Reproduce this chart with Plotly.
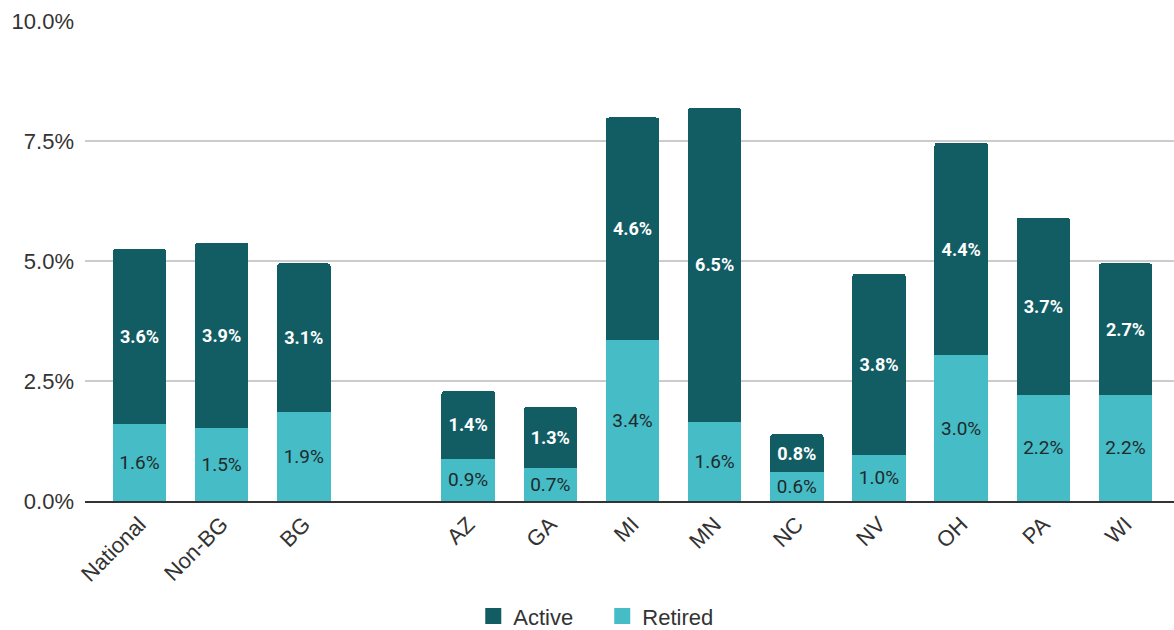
import plotly.graph_objects as go

categories = ["National", "Non-BG", "BG", "", "AZ", "GA", "MI", "MN", "NC", "NV", "OH", "PA", "WI"]
retired = [1.60, 1.52, 1.85, None, 0.88, 0.69, 3.35, 1.65, 0.60, 0.96, 3.04, 2.21, 2.21]
active = [3.65, 3.86, 3.10, None, 1.41, 1.27, 4.64, 6.54, 0.79, 3.77, 4.42, 3.69, 2.74]
y_ticks = [0, 2.5, 5, 7.5, 10]
y_tick_labels = [f"{v:.1f}%" for v in y_ticks]

RETIRED_COLOR = "#45bcc6"
ACTIVE_COLOR = "#125d64"

x_idx = list(range(len(categories)))

fig = go.Figure()
fig.add_trace(go.Bar(
    x=x_idx, y=retired, name="Retired", marker_color=RETIRED_COLOR,
    marker_line_width=0, showlegend=False,
    texttemplate="%{y:.1f}%", textposition="inside", insidetextanchor="middle",
    textfont=dict(family="Roboto", size=19, color="#1f2a2b"),
    textangle=0, width=0.65,
))
fig.add_trace(go.Bar(
    x=x_idx, y=active, name="Active", marker_color=ACTIVE_COLOR,
    marker_line_width=0, showlegend=False,
    texttemplate="<b>%{y:.1f}%</b>", textposition="inside", insidetextanchor="middle",
    textfont=dict(family="Roboto", size=18, color="#ffffff"),
    textangle=0, width=0.65,
))
# legend entries with larger square swatches
for name, col in [("Active", ACTIVE_COLOR), ("Retired", RETIRED_COLOR)]:
    fig.add_trace(go.Scatter(
        x=[None], y=[None], mode="markers", name=name,
        marker=dict(symbol="square", size=20, color=col),
    ))

fig.update_layout(
    width=1174, height=630,
    barmode="stack", barcornerradius=3,
    plot_bgcolor="white", paper_bgcolor="white",
    margin=dict(l=85, r=0, t=21, b=129),
    font=dict(family="Liberation Sans, Arial", size=22, color="#333333"),
    legend=dict(
        orientation="h", xref="container", yref="container",
        x=0.513, xanchor="center", y=0.022, yanchor="middle",
        traceorder="normal",
        font=dict(family="Liberation Sans, Arial", size=22, color="#333333"),
        itemsizing="trace", entrywidth=84,
    ),
    xaxis=dict(
        tickmode="array", tickvals=x_idx, ticktext=categories,
        range=[-0.663, 12.59], tickangle=-45, showgrid=False,
        showline=True, linecolor="#333333", linewidth=1.5,
        tickfont=dict(family="Liberation Sans, Arial", size=22, color="#333333"),
        ticks="",
    ),
    yaxis=dict(
        range=[0, 10], tickmode="array", tickvals=y_ticks, ticktext=y_tick_labels,
        showgrid=True, gridcolor="#cccccc", gridwidth=1.5, zeroline=False,
        tickfont=dict(family="Liberation Sans, Arial", size=22, color="#333333"),
        ticks="", ticklabelstandoff=10,
    ),
)

fig.write_html("out.html")
